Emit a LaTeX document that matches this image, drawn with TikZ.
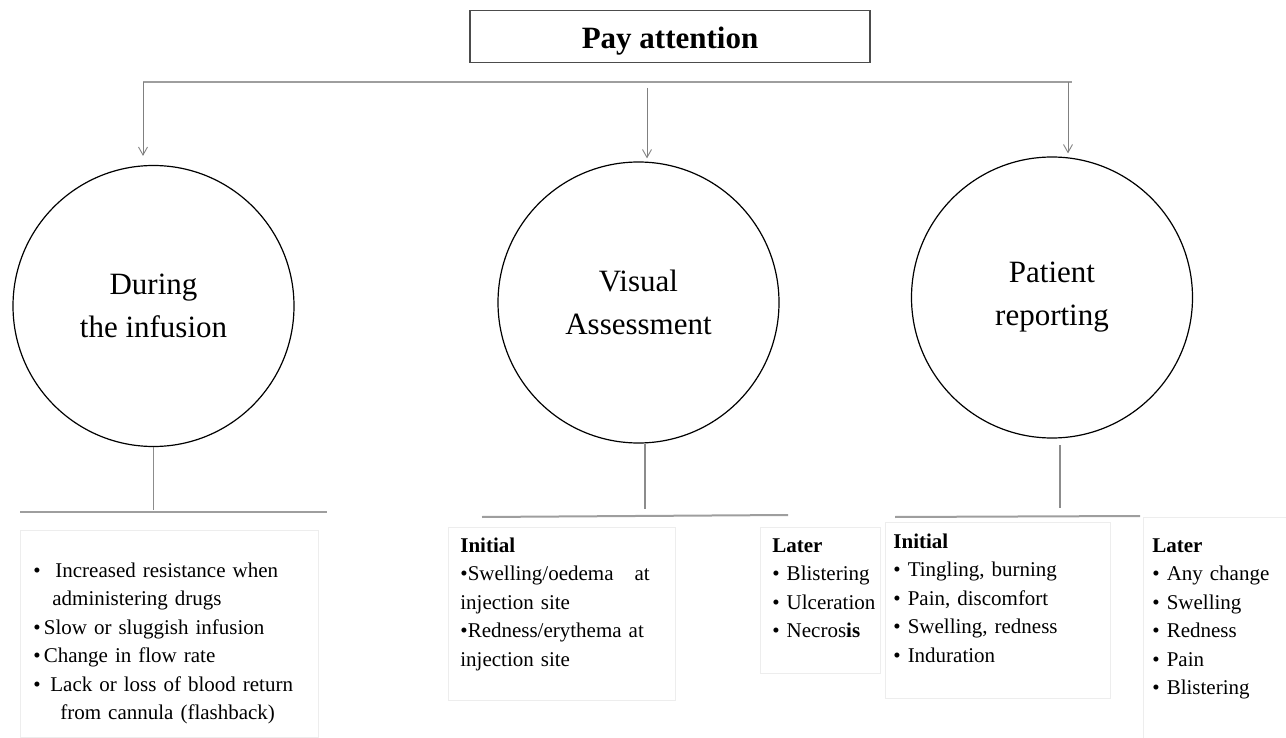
\documentclass[tikz,border=0pt]{standalone}
\usepackage{fontspec}
\setmainfont{Liberation Serif}
\usetikzlibrary{arrows.meta}
\usetikzlibrary{calc}

\begin{document}
\begin{tikzpicture}[x=1pt,y=-1pt,>/.tip={Straight Barb[length=8pt,width=9pt]},
	bubble/.style={draw,shape=circle,minimum size=281pt,inner sep=0pt,line width=1.2pt,align=center,font=\fontsize{31}{43}\selectfont},
	listbox/.style={draw=black!7,line width=0.8pt,anchor=north west,inner ysep=0pt,align=left,font=\fontsize{21}{28.5}\selectfont,execute at begin node={\hyphenpenalty=10000}},
	rail/.style={draw=black!38,line width=2pt},
	stem/.style={draw=black!45,line width=1.2pt},
	drop/.style={draw=black!50,line width=0.9pt}]
	\useasboundingbox (0,0) rectangle (1286,738);
	\draw (670,10) node(pay) [anchor=north,draw=black!70,line width=1.5pt,minimum width=400pt,inner ysep=0pt,text height=38pt,text depth=14pt,font=\bfseries\fontsize{31}{36}\selectfont] {Pay attention};
	\draw (153.5,306) node(infusion) [bubble] {During\\the infusion};
	\draw (638.5,302.5) node(visual) [bubble] {Visual\\Assessment};
	\draw (1052,297.5) node(patient) [bubble] {Patient\\reporting};
	\coordinate (t1) at (143,82);
	\coordinate (t2) at (647,88);
	\coordinate (t3) at (1068,82);
	\coordinate (tend) at (1072,82);
	\draw[rail] (t1) -- (tend);
	\draw[drop,->,shorten >=9pt] (t1) -- (t1 |- infusion.north);
	\draw[drop,->,shorten >=3pt] (t2) -- (t2 |- visual.north);
	\draw[drop,->,shorten >=3pt] (t3) -- (t3 |- patient.north);
	\coordinate (j1) at (153.5,510);
	\coordinate (j2) at (645,509);
	\coordinate (j3) at (1060,508);
	\draw[stem] (infusion.south) -- (j1);
	\draw[stem] (j2 |- visual.south) -- (j2);
	\draw[stem] (1060,445) -- (j3);
	\coordinate (b1w) at (20,512);
	\coordinate (b1e) at (327,512);
	\coordinate (b2w) at (482,517);
	\coordinate (b2e) at (788,515);
	\coordinate (b3w) at (895,517);
	\coordinate (b3e) at (1140,516);
	\draw[rail] (b1w) -- (b1e);
	\draw[rail] (b2w) -- (b2e);
	\draw[rail] (b3w) -- (b3e);
	\draw (20,530) node(infusionlist) [listbox,text width=272pt,inner xsep=13pt,text height=47pt,text depth=160pt] {\makebox[22pt][l]{\textbullet}Increased resistance when\\
		\hspace*{19pt}administering drugs\\
		\makebox[10.5pt][l]{\textbullet}Slow or sluggish infusion\\
		\makebox[10.5pt][l]{\textbullet}Change in flow rate\\
		\makebox[17pt][l]{\textbullet}Lack or loss of blood return\\
		\hspace*{27pt}from cannula (flashback)};
	\draw (448,527) node(visualinit) [listbox,text width=203pt,inner xsep=12pt,text height=25pt,text depth=148pt] {\textbf{Initial}\\
		\textbullet Swelling/oedema\ \ \ at\\
		injection site\\
		\textbullet Redness/erythema at\\
		injection site};
	\draw (760,527) node(visuallate) [listbox,text width=96pt,inner xsep=12pt,text height=25pt,text depth=121pt] {\textbf{Later}\\
		\textbullet~Blistering\\
		\textbullet~Ulceration\\
		\textbullet~Necros\textbf{is}};
	\draw (885,522) node(patientinit) [listbox,text width=209pt,inner xsep=8pt,text height=26pt,text depth=150pt] {\textbf{Initial}\\
		\textbullet~Tingling, burning\\
		\textbullet~Pain, discomfort\\
		\textbullet~Swelling, redness\\
		\textbullet~Induration};
	\draw (1143,517) node(patientlate) [listbox,text width=125pt,inner xsep=9pt,text height=35pt,text depth=186pt] {\textbf{Later}\\
		\textbullet~Any change\\
		\textbullet~Swelling\\
		\textbullet~Redness\\
		\textbullet~Pain\\
		\textbullet~Blistering};
\end{tikzpicture}
\end{document}
